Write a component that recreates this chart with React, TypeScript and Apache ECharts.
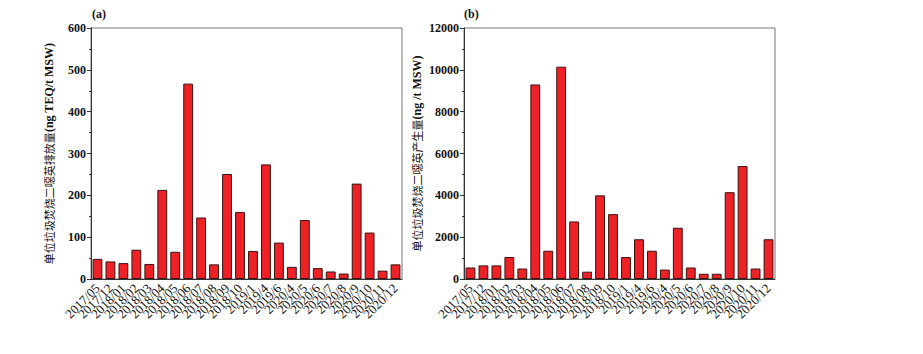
import React, { useEffect, useRef } from "react";
import * as echarts from "echarts";

const categories = [
  "2017/05", "2017/12", "2018/01", "2018/02", "2018/03", "2018/04",
  "2018/05", "2018/06", "2018/07", "2018/08", "2018/09", "2018/10",
  "2019/1", "2019/4", "2019/6", "2020/4", "2020/5", "2020/6",
  "2020/7", "2020/8", "2020/9", "2020/10", "2020/11", "2020/12",
];

const emissionA = [
  48, 42, 38, 70, 36, 213, 65, 467, 147, 35, 251, 160,
  67, 274, 87, 29, 141, 26, 18, 13, 228, 111, 20, 35,
];

const generationB = [
  550, 650, 650, 1050, 500, 9300, 1350, 10150, 2750, 350, 4000, 3100,
  1050, 1900, 1350, 450, 2450, 550, 250, 250, 4150, 5400, 500, 1900,
];

const titleACn = "单位垃圾焚烧二噁英排放量";
const titleAUnit = "(ng TEQ/t MSW)";
const titleBCn = "单位垃圾焚烧二噁英产生量";
const titleBUnit = "(ng /t MSW)";

const SERIF = "'Liberation Serif', 'Noto Sans CJK SC', serif";

export default function App() {
  const ref = useRef<HTMLDivElement>(null);
  useEffect(() => {
    if (!ref.current) return;
    const chart = echarts.init(ref.current, null, { renderer: "svg" });
    const xAxisBase = (gridIndex: number) => ({
      type: "category",
      gridIndex,
      data: categories,
      axisLine: { lineStyle: { color: "#333", width: 1 } },
      axisTick: { alignWithLabel: true, length: 4, lineStyle: { color: "#333" } },
      axisLabel: {
        interval: 0,
        rotate: 45,
        fontSize: 13,
        fontFamily: SERIF,
        color: "#111",
        margin: 7,
      },
    });
    const yAxisBase = (gridIndex: number, max: number, interval: number, cn: string, unit: string, nameGap: number) => ({
      type: "value",
      gridIndex,
      min: 0,
      max,
      interval,
      name: `{c|${cn}}{l|${unit}}`,
      nameLocation: "middle",
      nameRotate: 90,
      nameGap,
      nameTextStyle: {
        rich: {
          c: { fontFamily: "'Noto Sans CJK SC', sans-serif", fontSize: 11, fontWeight: "normal", color: "#111" },
          l: { fontFamily: SERIF, fontSize: 12, fontWeight: "bold", color: "#111" },
        },
      },
      axisLine: { show: true, lineStyle: { color: "#333", width: 1 } },
      axisTick: { show: true, length: 4, lineStyle: { color: "#333" } },
      minorTick: { show: true, splitNumber: 2, length: 2, lineStyle: { color: "#333" } },
      splitLine: { show: false },
      axisLabel: {
        fontFamily: SERIF,
        fontSize: 12,
        fontWeight: "bold",
        color: "#111",
        margin: 5,
        formatter: (v: number) => String(v),
      },
    });
    const barSeries = (idx: number, data: number[]) => ({
      type: "bar",
      xAxisIndex: idx,
      yAxisIndex: idx,
      data,
      barCategoryGap: "24%",
      itemStyle: { color: "#EE2126", borderColor: "#3a1212", borderWidth: 1 },
    });
    chart.setOption({
      animation: false,
      grid: [
        { left: 91, top: 28, width: 311, height: 251, show: true, borderColor: "#777", borderWidth: 1 },
        { left: 464, top: 28, width: 311, height: 251, show: true, borderColor: "#777", borderWidth: 1 },
      ],
      xAxis: [xAxisBase(0), xAxisBase(1)],
      yAxis: [
        yAxisBase(0, 600, 100, titleACn, titleAUnit, 36),
        yAxisBase(1, 12000, 2000, titleBCn, titleBUnit, 41),
      ],
      graphic: [
        { type: "text", left: 92, top: 8, style: { text: "(a)", font: `bold 12px ${SERIF}`, fill: "#111" } },
        { type: "text", left: 464, top: 8, style: { text: "(b)", font: `bold 12px ${SERIF}`, fill: "#111" } },
      ],
      series: [barSeries(0, emissionA), barSeries(1, generationB)],
    });
    return () => chart.dispose();
  }, []);
  return (
    <div
      ref={ref}
      style={{ position: "absolute", left: 0, top: 0, width: 923, height: 354, background: "#fff" }}
    />
  );
}
